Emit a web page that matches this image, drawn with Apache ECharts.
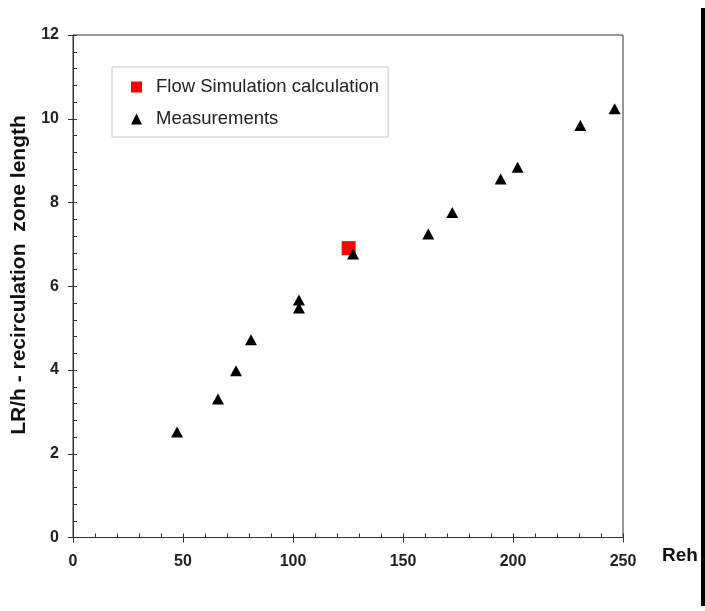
<!DOCTYPE html>
<html>
<head>
<meta charset="utf-8">
<script src="https://cdn.jsdelivr.net/npm/echarts@6/dist/echarts.min.js"></script>
<style>
html,body{margin:0;padding:0;background:#fff;}
#chart{width:705px;height:611px;}
</style>
</head>
<body>
<div id="chart"></div>
<script>
// Data
const measX = [47.3, 65.9, 74.1, 80.9, 102.7, 102.7, 127.3, 161.5, 172.4, 194.4, 202.1, 230.6, 246.2];
const measY = [2.52, 3.31, 3.98, 4.72, 5.67, 5.48, 6.77, 7.25, 7.76, 8.56, 8.84, 9.84, 10.24];
const simX = [125.3];
const simY = [6.91];
const seriesNames = ['Flow Simulation calculation', 'Measurements'];
const xTitle = 'Reh';
const yTitle = 'LR/h - recirculation  zone length';

const chart = echarts.init(document.getElementById('chart'), null, {renderer: 'canvas'});
const axisColor = '#333';
const font = 'Liberation Sans, Arial, sans-serif';

const baseX = {type: 'value', min: 0, max: 250, interval: 50, position: 'bottom', splitLine: {show: false}};
const baseY = {type: 'value', min: 0, max: 12, interval: 2, position: 'left', splitLine: {show: false}};

const option = {
  backgroundColor: '#fff',
  animation: false,
  grid: {left: 73, right: 82, top: 35, bottom: 73.5, show: true, borderColor: axisColor, borderWidth: 1},
  legend: {
    orient: 'vertical', left: 112, top: 67,
    padding: [10, 9, 8, 19],
    itemGap: 12, itemWidth: 11, itemHeight: 11,
    borderColor: '#c8c8c8', borderWidth: 1,
    textStyle: {fontFamily: font, fontSize: 18.5, color: '#222', lineHeight: 20, padding: [0, 0, 0, 9]},
    data: [{name: seriesNames[0], icon: 'rect'}, {name: seriesNames[1], icon: 'triangle'}]
  },
  xAxis: [
    Object.assign({}, baseX, {
      axisLine: {lineStyle: {color: axisColor, width: 1}},
      axisTick: {show: true, inside: false, length: 5, lineStyle: {color: axisColor}},
      axisLabel: {fontFamily: font, fontSize: 16, fontWeight: 'bold', color: '#222', margin: 16}
    }),
    Object.assign({}, baseX, {
      axisLine: {show: false},
      axisTick: {show: true, inside: true, length: 4, lineStyle: {color: axisColor}},
      minorTick: {show: true, splitNumber: 5, length: 4, lineStyle: {color: axisColor}},
      axisLabel: {show: false}
    })
  ],
  yAxis: [
    Object.assign({}, baseY, {
      axisLine: {lineStyle: {color: axisColor, width: 1}},
      axisTick: {show: true, inside: false, length: 5, lineStyle: {color: axisColor}},
      axisLabel: {fontFamily: font, fontSize: 16, fontWeight: 'bold', color: '#222', margin: 14}
    }),
    Object.assign({}, baseY, {
      axisLine: {show: false},
      axisTick: {show: true, inside: true, length: 4, lineStyle: {color: axisColor}},
      minorTick: {show: true, splitNumber: 5, length: 4, lineStyle: {color: axisColor}},
      axisLabel: {show: false}
    })
  ],
  series: [
    {
      name: seriesNames[0], type: 'scatter', xAxisIndex: 0, yAxisIndex: 0,
      symbol: 'rect', symbolSize: 14,
      itemStyle: {color: '#ff0000', opacity: 1},
      data: simX.map((x, i) => [x, simY[i]])
    },
    {
      name: seriesNames[1], type: 'scatter', xAxisIndex: 0, yAxisIndex: 0,
      symbol: 'triangle', symbolSize: [12, 11],
      itemStyle: {color: '#000', opacity: 1},
      data: measX.map((x, i) => [x, measY[i]])
    }
  ],
  graphic: [
    {type: 'rect', left: 701, top: 8, shape: {width: 4, height: 598}, style: {fill: '#000'}},
    {type: 'text', x: 680, y: 556, style: {text: xTitle, fontFamily: font, fontSize: 19, fontWeight: 'bold', fill: '#111', align: 'center', verticalAlign: 'middle'}},
    {type: 'text', x: 19, y: 275, rotation: Math.PI / 2, style: {text: yTitle, fontFamily: font, fontSize: 21, fontWeight: 'bold', fill: '#111', align: 'center', verticalAlign: 'middle'}}
  ]
};
chart.setOption(option);
</script>
</body>
</html>
